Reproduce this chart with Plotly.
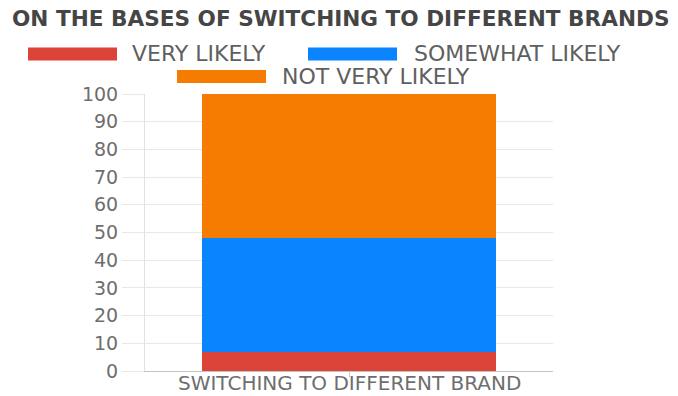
import plotly.graph_objects as go

# ---- data ----
categories = ["SWITCHING TO DIFFERENT BRAND"]
series_names = ["VERY LIKELY", "SOMEWHAT LIKELY", "NOT VERY LIKELY"]
very_likely = [7]
somewhat_likely = [41]
not_very_likely = [52]
series_values = [very_likely, somewhat_likely, not_very_likely]
series_colors = ["#DB4437", "#0A84FF", "#F57C00"]
y_ticks = [0, 10, 20, 30, 40, 50, 60, 70, 80, 90, 100]
title_text = "ON THE BASES OF SWITCHING TO DIFFERENT BRANDS"

# ---- layout geometry (pixels) ----
FW, FH = 678, 396
L, R, T, B = 145, 553, 94, 371
PW, PH = R - L, B - T


def px(x):
    return (x - L) / PW


def py(y):
    return (B - y) / PH


FONT = "DejaVu Sans"

fig = go.Figure()
for name, vals, col in zip(series_names, series_values, series_colors):
    fig.add_trace(go.Bar(x=categories, y=vals, name=name, marker=dict(color=col, line=dict(width=0)),
                         width=0.72, showlegend=False))

# custom legend (swatch x-left, row center y, text x-left)
legend_pos = [(28, 54, 130), (308, 54, 412), (177, 76.5, 280)]
shapes = []
annotations = []
for name, col, (sx, cy, tx) in zip(series_names, series_colors, legend_pos):
    shapes.append(dict(type="rect", xref="paper", yref="paper",
                       x0=px(sx), x1=px(sx + 89), y0=py(cy - 6.5), y1=py(cy + 6.5),
                       fillcolor=col, line=dict(width=0)))
    annotations.append(dict(text=name, xref="paper", yref="paper", x=px(tx), y=py(cy),
                            xanchor="left", yanchor="middle", showarrow=False,
                            font=dict(family=FONT, size=22, color="#5f5f5f")))

# category label drawn close under the axis
for cat in categories:
    annotations.append(dict(text=cat, xref="x", yref="paper", x=cat, y=py(395.5),
                            xanchor="center", yanchor="bottom", showarrow=False, borderpad=0,
                            font=dict(family=FONT, size=20, color="#6e6e6e")))

fig.update_layout(
    width=FW, height=FH,
    margin=dict(l=L, r=FW - R, t=T, b=FH - B, pad=0, autoexpand=False),
    paper_bgcolor="white", plot_bgcolor="white",
    barmode="stack",
    title=dict(text=title_text, x=12 / FW, xanchor="left", y=1 - 18 / FH, yanchor="middle",
               automargin=False,
               font=dict(family=FONT, size=21.6, color="#454545", weight="bold")),
    shapes=shapes, annotations=annotations,
    xaxis=dict(type="category", showgrid=False, showline=True, linecolor="#c4c4c4", linewidth=1,
               automargin=False, showticklabels=False,
               ticks="outside", ticklen=5, tickcolor="#cccccc", range=[-0.5, 0.5]),
    yaxis=dict(range=[0, 100], tickvals=y_ticks, showgrid=True, gridcolor="#e8e8e8", gridwidth=1,
               automargin=False,
               zeroline=False, showline=True, linecolor="#e2e2e2", linewidth=1,
               ticks="outside", ticklen=22, tickcolor="#e8e8e8",
               tickfont=dict(family=FONT, size=19, color="#6e6e6e")),
)

fig.write_html("out.html")
